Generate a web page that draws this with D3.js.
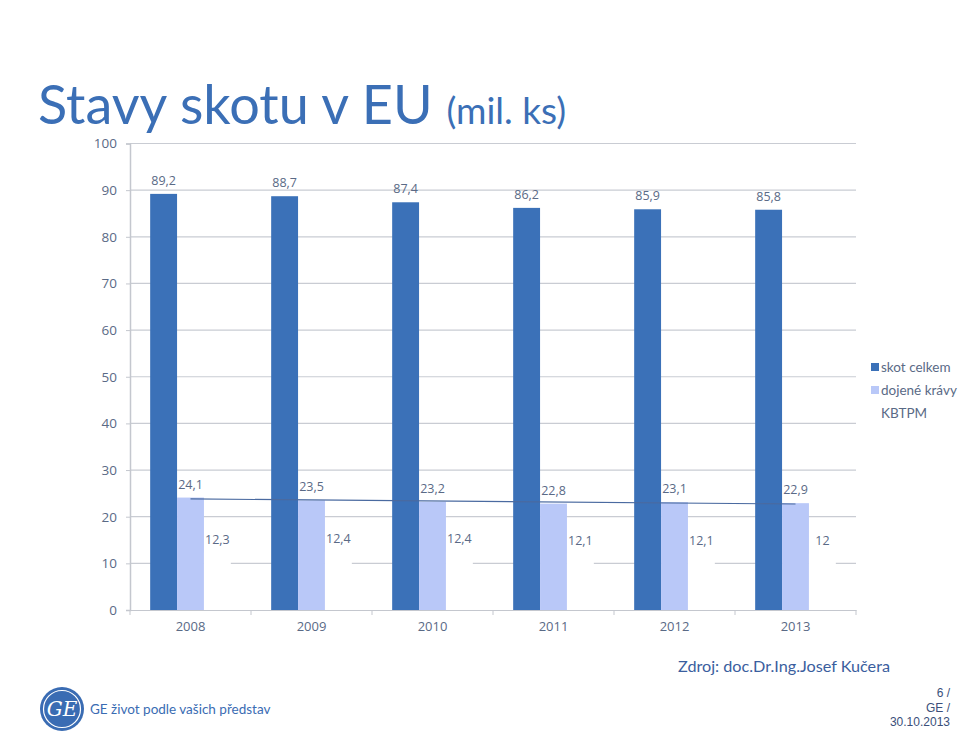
<!DOCTYPE html>
<html><head><meta charset="utf-8">
<script src="https://cdn.jsdelivr.net/npm/d3@7/dist/d3.min.js"></script>
<style>body{margin:0;background:#fff}svg{display:block}</style>
</head><body>
<svg id="c" width="960" height="732"></svg>
<script>
const years = ["2008","2009","2010","2011","2012","2013"];
const skotCelkem = [89.2, 88.7, 87.4, 86.2, 85.9, 85.8];
const dojeneKravy = [24.1, 23.5, 23.2, 22.8, 23.1, 22.9];
const kbtpm = [12.3, 12.4, 12.4, 12.1, 12.1, 12];
const yTicks = [0,10,20,30,40,50,60,70,80,90,100];
const seriesNames = ["skot celkem","dojené krávy","KBTPM"];
const colors = ["#3b71b8","#b9c8f8","#ffffff"];

const svg = d3.select("#c");
const txt = "#5a6a86";
const fmt = v => String(v).replace(".", ",");

// title
const t = svg.append("text").attr("x",38).attr("y",124).attr("fill","#3b6fb6")
  .attr("font-family","Lato, 'Open Sans', sans-serif");
t.append("tspan").attr("font-size",54).text("Stavy skotu v EU ");
t.append("tspan").attr("font-size",37).text("(mil. ks)");

const L = 130, R = 856, T = 143.5, B = 610;
const x = d3.scaleBand().domain(years).range([L,R]);
const y = d3.scaleLinear().domain([0,100]).range([B,T]);
const inner = d3.scaleBand().domain([0,1,2]).range([0, x.bandwidth()]).paddingOuter(0.75).paddingInner(0);

// gridlines
svg.append("g").selectAll("line").data(yTicks.filter(d=>d>0)).join("line")
  .attr("x1",L).attr("x2",R).attr("y1",d=>y(d)).attr("y2",d=>y(d))
  .attr("stroke","#c9ccd3").attr("stroke-width",1.2);

// y axis
const ya = svg.append("g").attr("transform",`translate(${L},0)`)
  .call(d3.axisLeft(y).tickValues(yTicks).tickSize(4).tickPadding(9));
ya.select(".domain").attr("stroke","#c4c7ce").attr("stroke-width",1.5);
ya.selectAll(".tick line").attr("stroke","#c4c7ce");
ya.selectAll("text").attr("fill",txt).attr("font-size",13.5).attr("font-family","'Open Sans', sans-serif");

// x axis
const xa = svg.append("g").attr("transform",`translate(0,${B})`)
  .call(d3.axisBottom(x).tickSize(0).tickPadding(12));
xa.select(".domain").attr("stroke","#c4c7ce").attr("stroke-width",1.2);
xa.selectAll("text").attr("fill",txt).attr("font-size",13).attr("font-family","'Open Sans', sans-serif");
svg.append("g").selectAll("line").data(d3.range(years.length+1)).join("line")
  .attr("x1",i=>L+i*x.step()).attr("x2",i=>L+i*x.step())
  .attr("y1",B).attr("y2",B+5).attr("stroke","#c4c7ce");

const series = [skotCelkem, dojeneKravy, kbtpm];
series.forEach((vals, si) => {
  const g = svg.append("g");
  g.selectAll("rect").data(vals).join("rect")
    .attr("x",(d,i)=>x(years[i])+inner(si)).attr("width",inner.bandwidth())
    .attr("y",d=>y(d)).attr("height",d=>B-y(d)).attr("fill",colors[si]);
  g.selectAll("text").data(vals).join("text")
    .attr("x",(d,i)=>x(years[i])+inner(si)+inner.bandwidth()/2)
    .attr("y",d=>y(d)-9).attr("text-anchor","middle")
    .attr("fill",txt).attr("font-size",12.5).attr("font-family","'Open Sans', sans-serif")
    .text(d=>fmt(d));
});

// linear trendline of dojené krávy
const n = dojeneKravy.length, xs = d3.range(n);
const mx = d3.mean(xs), my = d3.mean(dojeneKravy);
const slope = d3.sum(xs,(i)=> (i-mx)*(dojeneKravy[i]-my)) / d3.sum(xs,i=>(i-mx)*(i-mx));
const icpt = my - slope*mx;
const cx = i => x(years[i]) + inner(1) + inner.bandwidth()/2;
svg.append("line").attr("x1",cx(0)).attr("x2",cx(n-1))
  .attr("y1",y(icpt)).attr("y2",y(icpt+slope*(n-1)))
  .attr("stroke","#4a6aa0").attr("stroke-width",1.2);

// legend
const lg = svg.append("g").attr("font-family","Lato, 'Open Sans', sans-serif").attr("font-size",13.5);
seriesNames.forEach((s,i)=>{
  const yy = 372 + i*23;
  lg.append("rect").attr("x",871).attr("y",yy-9).attr("width",8).attr("height",8).attr("fill",colors[i]);
  lg.append("text").attr("x",881).attr("y",yy).attr("fill",txt).text(s);
});

// footer
svg.append("text").attr("x",678).attr("y",672).attr("fill","#3a5e9e").attr("font-size",16.2)
  .attr("font-family","Lato, 'Open Sans', sans-serif").text("Zdroj: doc.Dr.Ing.Josef Kučera");
const logo = svg.append("g").attr("transform","translate(62,709)");
logo.append("circle").attr("r",22).attr("fill","#3a6cb3");
logo.append("circle").attr("r",18.5).attr("fill","none").attr("stroke","#fff").attr("stroke-width",1.2);
logo.append("text").attr("y",7).attr("text-anchor","middle").attr("fill","#fff")
  .attr("font-size",20).attr("font-style","italic").attr("font-family","'DejaVu Serif', serif").text("GE");
svg.append("text").attr("x",90).attr("y",714).attr("fill","#3a6cb3").attr("font-size",13.5)
  .attr("font-family","Lato, 'Open Sans', sans-serif").text("GE život podle vašich představ");
const pg = svg.append("g").attr("font-family","'Liberation Sans', sans-serif").attr("font-size",12)
  .attr("fill","#3a4f7a").attr("text-anchor","end");
["6 /","GE /","30.10.2013"].forEach((s,i)=>pg.append("text").attr("x",950).attr("y",697+i*14.5).text(s));
</script>
</body></html>
